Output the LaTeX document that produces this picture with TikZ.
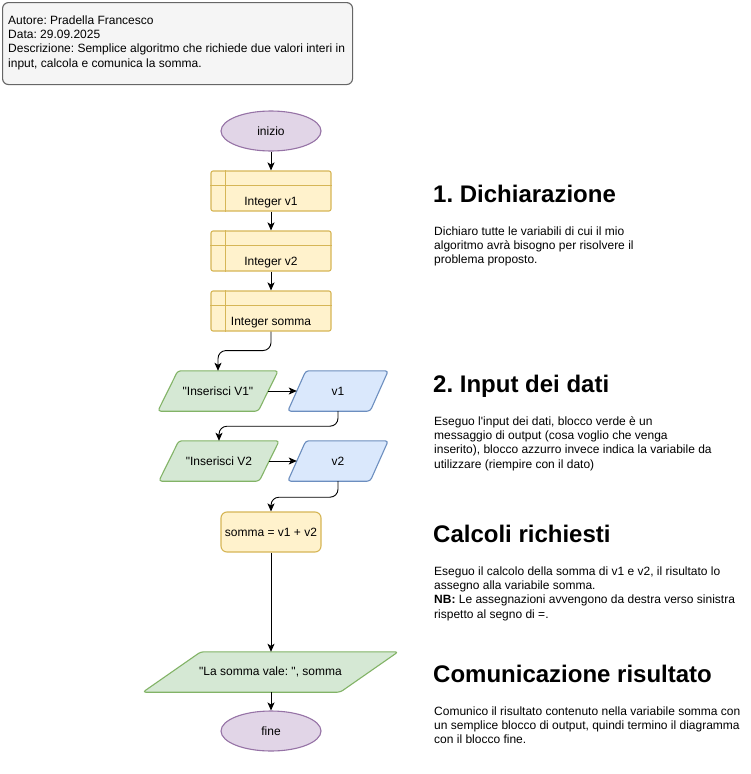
\documentclass[tikz,border=0pt]{standalone}
\usepackage{fontspec}
\setmainfont{Liberation Sans}[Ligatures=TeXOff]
\frenchspacing
\usetikzlibrary{arrows.meta,shapes.geometric,backgrounds}
\definecolor{purF}{HTML}{E1D5E7}\definecolor{purS}{HTML}{9673A6}
\definecolor{yelF}{HTML}{FFF2CC}\definecolor{yelS}{HTML}{D6B656}
\definecolor{grnF}{HTML}{D5E8D4}\definecolor{grnS}{HTML}{82B366}
\definecolor{bluF}{HTML}{DAE8FC}\definecolor{bluS}{HTML}{6C8EBF}
\definecolor{gryF}{HTML}{F5F5F5}\definecolor{gryS}{HTML}{666666}
\newcommand\paraOutline[4]{%
  \begin{pgfonlayer}{background}
  \draw[line width=1.1pt, draw=#4, fill=#3, rounded corners=3pt, line join=round]
   ([xshift=#2]#1.north west) -- (#1.north east) -- ([xshift=-#2]#1.south east) -- (#1.south west) -- cycle;
  \end{pgfonlayer}}
\begin{document}
\begin{tikzpicture}[x=1pt,y=-1pt,
  txt/.style={font=\fontsize{12}{14.4}\selectfont},
  term/.style={ellipse, draw=purS, fill=purF, line width=1.1pt, minimum width=100pt, minimum height=40pt, inner sep=0pt, txt},
  store/.style={rectangle, draw=yelS, fill=yelF, line width=1.1pt, rounded corners=2pt, minimum width=120pt, minimum height=40pt, inner sep=0pt},
  proc/.style={rectangle, draw=yelS, fill=yelF, line width=1.1pt, rounded corners=6pt, minimum width=100pt, minimum height=40pt, inner sep=0pt, txt},
  para/.style={rectangle, minimum height=40pt, inner sep=0pt, txt},
  arr/.style={line width=0.9pt, -{Stealth[length=8pt,width=7pt,inset=2pt]}},
  head/.style={font=\fontsize{24}{28.8}\selectfont\bfseries, anchor=base west, inner sep=0pt},
  body/.style={txt, anchor=base west, align=left, inner sep=0pt},
]
\useasboundingbox (0,0) rectangle (751,774);
\begin{pgfonlayer}{background}
\fill[white] (0,0) rectangle (751,774);
\end{pgfonlayer}

% header
\node[draw=gryS, fill=gryF, line width=1.1pt, rounded corners=6pt, anchor=north west,
  minimum width=350pt, minimum height=82pt, inner sep=0pt] (hdr) at (2,2) {};
\node[body] (hdrt) at (8,67.2)
  {Autore: Pradella Francesco\\Data: 29.09.2025\\Descrizione: Semplice algoritmo che richiede due valori interi in\\input, calcola e comunica la somma.};

% flowchart
\node[term] (ini) at (271,131) {inizio};

\node[store] (d1) at (271,191) {};
\node[store] (d2) at (271,251) {};
\node[store] (d3) at (271,311) {};
\foreach \n in {d1,d2,d3}{
  \draw[yelS, line width=1.1pt] ([xshift=15pt]\n.north west) -- ([xshift=15pt]\n.south west);
  \draw[yelS, line width=1.1pt] ([yshift=-15pt]\n.north west) -- ([yshift=-15pt]\n.north east);
}
\node[txt, inner sep=0pt] (d1t) at (271,202.5) {Integer v1};
\node[txt, inner sep=0pt] (d2t) at (271,262.5) {Integer v2};
\node[txt, inner sep=0pt] (d3t) at (271,322.5) {Integer somma};

\node[para, minimum width=120pt] (pin1) at (218,391) {"Inserisci V1"};
\paraOutline{pin1}{20pt}{grnF}{grnS}
\node[para, minimum width=100pt] (pv1) at (338,391) {v1};
\paraOutline{pv1}{18pt}{bluF}{bluS}
\node[para, minimum width=120pt] (pin2) at (219,461) {"Inserisci V2};
\paraOutline{pin2}{20pt}{grnF}{grnS}
\node[para, minimum width=100pt] (pv2) at (338,461) {v2};
\paraOutline{pv2}{18pt}{bluF}{bluS}

\node[proc] (calc) at (271,532) {somma = v1 + v2};

\node[para, minimum width=255pt] (pout) at (270.5,672) {"La somma vale: ", somma};
\paraOutline{pout}{58pt}{grnF}{grnS}

\node[term] (fine) at (271,731) {fine};

% connectors
\draw[arr] (ini) -- (d1);
\draw[arr] (d1) -- (d2);
\draw[arr] (d2) -- (d3);
\draw[arr, rounded corners=8pt] (d3.south) -- ++(0,19) -| (pin1.north);
\draw[arr] ([xshift=-10pt]pin1.east) -- ([xshift=9pt]pv1.west);
\draw[arr, rounded corners=8pt] (pv1.south) -- ++(0,15) -| (pin2.north);
\draw[arr] ([xshift=-10pt]pin2.east) -- ([xshift=9pt]pv2.west);
\draw[arr, rounded corners=8pt] (pv2.south) -- ++(0,16) -| (calc.north);
\draw[arr] (calc.south) -- (calc.south |- pout.north);
\draw[arr] (pout.south -| fine.north) -- (fine.north);

% right side texts (base anchor = baseline of the last line)
\node[head] (h1) at (433,202) {1. Dichiarazione};
\node[body] (b1) at (434,263.8) {Dichiaro tutte le variabili di cui il mio\\algoritmo avrà bisogno per risolvere il\\problema proposto.};
\node[head] (h2) at (433,392) {2. Input dei dati};
\node[body] (b2) at (434,468.2) {Eseguo l'input dei dati, blocco verde è un\\messaggio di output (cosa voglio che venga\\inserito), blocco azzurro invece indica la variabile da\\utilizzare (riempire con il dato)};
\node[head] (h3) at (433,542) {Calcoli richiesti};
\node[body] (b3) at (434,618.2) {Eseguo il calcolo della somma di v1 e v2, il risultato lo\\assegno alla variabile somma.\\\textbf{NB:} Le assegnazioni avvengono da destra verso sinistra\\rispetto al segno di =.};
\node[head] (h4) at (433,682) {Comunicazione risultato};
\node[body] (b4) at (434,743.8) {Comunico il risultato contenuto nella variabile somma con\\un semplice blocco di output, quindi termino il diagramma\\con il blocco fine.};
\end{tikzpicture}
\end{document}
